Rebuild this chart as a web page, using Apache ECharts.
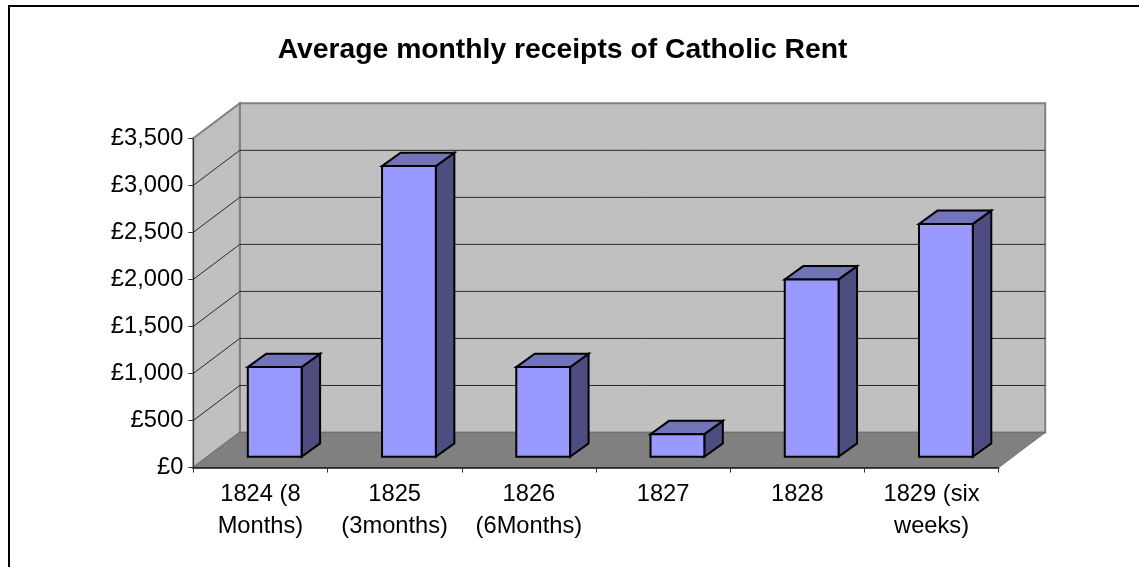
<!DOCTYPE html>
<html><head><meta charset="utf-8">
<style>html,body{margin:0;padding:0;background:#fff}#c{width:1139px;height:567px}</style>
<script src="https://cdn.jsdelivr.net/npm/echarts@6/dist/echarts.min.js"></script>
</head><body><div id="c"></div>
<script>
const categories = ['1824 (8\nMonths)','1825\n(3months)','1826\n(6Months)','1827','1828','1829 (six\nweeks)'];
const receipts = [953, 3090, 953, 240, 1885, 2475];
const tickValues = [500,1000,1500,2000,2500,3000];
const FONT = '"Liberation Sans", Arial, sans-serif';
const wallDepth = [46.5,-35], barInset = [14.3,-10.8], barDepth = [18.5,-13.3], barWidth = 53.8;
const chart = echarts.init(document.getElementById('c'), null, {renderer:'canvas'});
const wallItem = (params, api) => {
  const g = params.coordSys, [dx,dy] = wallDepth;
  const L=g.x, R=g.x+g.width, T=g.y, B=g.y+g.height;
  const wall = {fill:'#c0c0c0', stroke:'#808080', lineWidth:2};
  return {type:'group', children:[
    {type:'polygon', shape:{points:[[L+dx,T+dy],[R+dx,T+dy],[R+dx,B+dy],[L+dx,B+dy]]}, style:wall},
    {type:'polygon', shape:{points:[[L,T],[L+dx,T+dy],[L+dx,B+dy],[L,B]]}, style:wall},
    {type:'polygon', shape:{points:[[L,B],[L+dx,B+dy],[R+dx,B+dy],[R,B]]}, style:{fill:'#808080', stroke:'#707070', lineWidth:1}}
  ]};
};
const gridItem = (params, api) => {
  const g = params.coordSys, [dx,dy] = wallDepth;
  const y = api.coord([0, api.value(0)])[1], L=g.x, R=g.x+g.width;
  return {type:'polyline', shape:{points:[[L,y],[L+dx,y+dy],[R+dx,y+dy]]}, style:{fill:null, stroke:'#2a2a2a', lineWidth:1}};
};
const barItem = (params, api) => {
  const base = api.coord([api.value(0), 0]), top = api.coord([api.value(0), api.value(1)]);
  const x0 = base[0]+barInset[0]-barWidth/2, x1 = x0+barWidth;
  const y0 = base[1]+barInset[1], y1 = top[1]+barInset[1];
  const [dx,dy] = barDepth, line = {stroke:'#000', lineWidth:2, lineJoin:'miter'};
  return {type:'group', children:[
    {type:'polygon', shape:{points:[[x1,y0],[x1+dx,y0+dy],[x1+dx,y1+dy],[x1,y1]]}, style:{fill:'#4d4d80', ...line}},
    {type:'polygon', shape:{points:[[x0,y1],[x1,y1],[x1+dx,y1+dy],[x0+dx,y1+dy]]}, style:{fill:'#7373b9', ...line}},
    {type:'rect', shape:{x:x0,y:y1,width:barWidth,height:y0-y1}, style:{fill:'#9999ff', ...line}}
  ]};
};
chart.setOption({
  animation:false,
  backgroundColor:'#fff',
  title:{text:'Average monthly receipts of Catholic Rent', left:557.5, textAlign:'center', top:31,
    textStyle:{fontFamily:FONT, fontSize:28.3, fontWeight:'bold', color:'#000'}},
  graphic:[{type:'rect', silent:true, z:-10, shape:{x:9,y:6,width:1160,height:600}, style:{fill:'none',stroke:'#000',lineWidth:2}}],
  grid:{left:193.3, right:140.3, top:138.3, bottom:99.5},
  xAxis:{type:'category', data:categories, z:1,
    axisLine:{lineStyle:{color:'#111',width:1.5}},
    axisTick:{show:true, length:5, lineStyle:{color:'#333'}},
    axisLabel:{fontFamily:FONT, fontSize:23.7, color:'#000', lineHeight:32, margin:11, interval:0}},
  yAxis:{type:'value', min:0, max:3500, interval:500,
    axisLine:{show:true, lineStyle:{color:'#333',width:1}},
    axisTick:{show:true, length:5, lineStyle:{color:'#333'}},
    splitLine:{show:false},
    axisLabel:{fontFamily:FONT, fontSize:23.7, color:'#000', margin:10, padding:[5,0,0,0],
      formatter:v=>'£'+v.toLocaleString('en-GB')}},
  series:[
    {type:'custom', z:0, silent:true, coordinateSystem:'cartesian2d', data:[[0,0]], renderItem:wallItem, clip:false, encode:{x:0,y:1}},
    {type:'custom', z:1, silent:true, coordinateSystem:'cartesian2d', data:tickValues.map(v=>[v]), renderItem:gridItem, clip:false, encode:{y:0}},
    {type:'custom', z:3, silent:true, coordinateSystem:'cartesian2d', data:receipts.map((v,i)=>[i,v]), renderItem:barItem, clip:false, encode:{x:0,y:1}}
  ]
});
</script></body></html>
